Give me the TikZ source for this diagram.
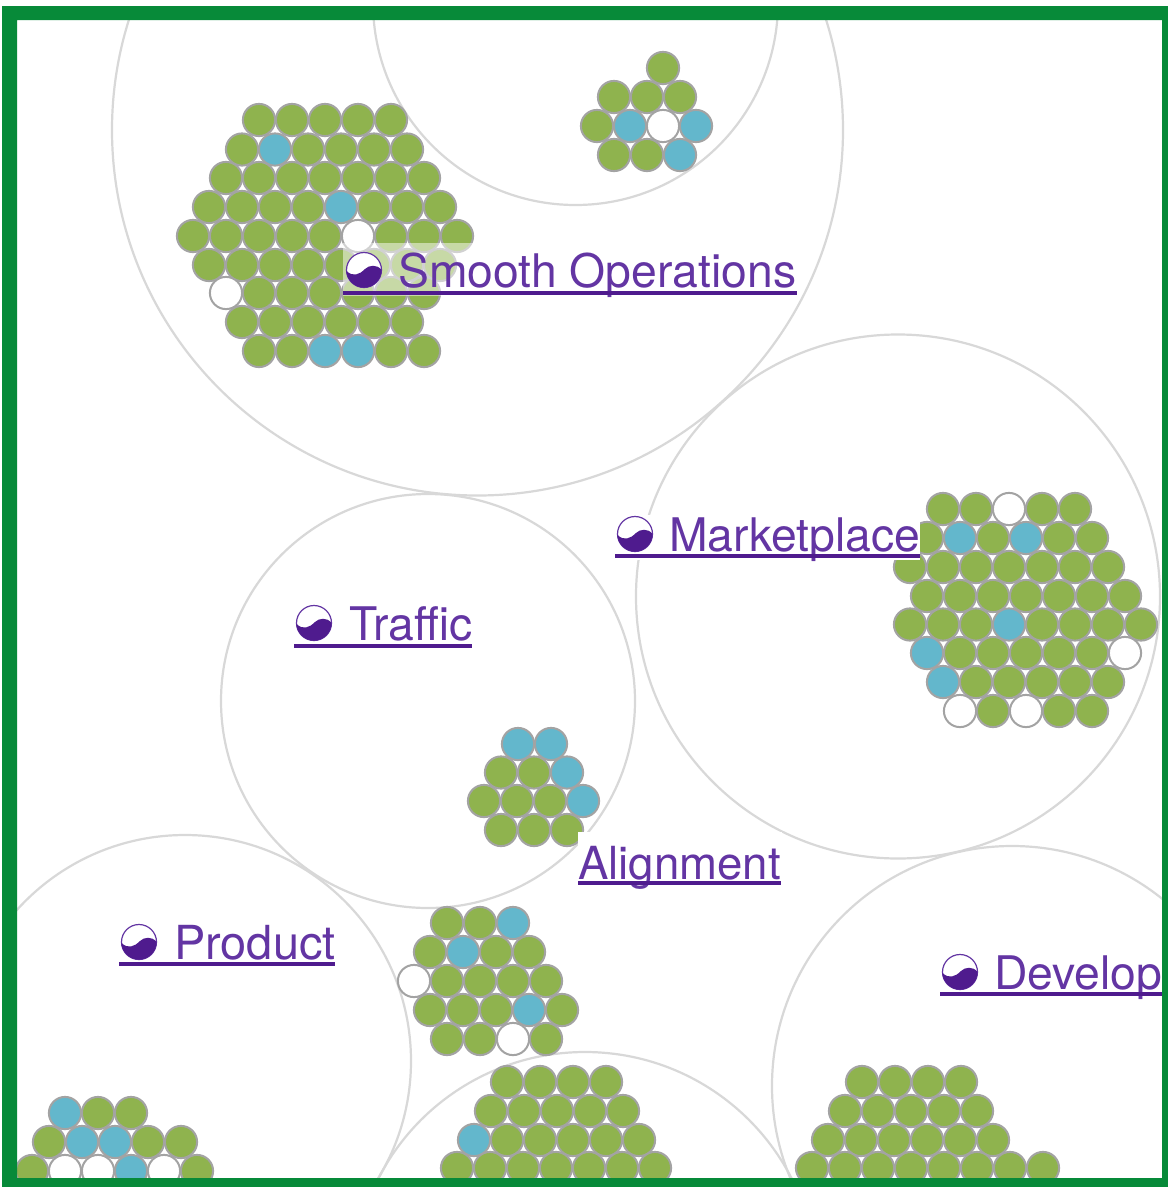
\documentclass[tikz,border=0pt]{standalone}
\usepackage{fontspec}
\setmainfont{TeX Gyre Heros}
\definecolor{leaf}{HTML}{8FB34E}
\definecolor{sky}{HTML}{63B7CC}
\definecolor{rim}{HTML}{A3A3A3}
\definecolor{ring}{HTML}{D8D8D8}
\definecolor{frame}{HTML}{078A39}
\definecolor{ink}{HTML}{6335A3}
\definecolor{inkdark}{HTML}{4F1B8E}
\tikzset{
  ringline/.style={draw=ring,line width=2.2pt},
  dotg/.style={draw=rim,line width=2pt,fill=leaf},
  dotb/.style={draw=rim,line width=2pt,fill=sky},
  dotw/.style={draw=rim,line width=2pt,fill=white},
  linklabel/.style={anchor=base west,inner sep=0pt,text=ink,font=\fontsize{46.3}{50}\selectfont},
  underrule/.style={draw=inkdark,line width=3.4pt},
}
\newcommand{\dotrow}[3]{%
  \foreach \c [count=\i from 0] in {#3}{\path[dot\c] ({#1+33*\i},#2) circle (16.1);}}
\newcommand{\linkicon}[2]{%
  \begin{scope}[shift={(#1,#2)}]
    \draw[ink,line width=1.2pt,fill=white] (0,0) circle (17.5);
    \fill[inkdark] (-17.5,1) .. controls (-11,7) and (-5,5) .. (1,-1) .. controls (5,-5) and (13,-6) .. (17.5,0)
      arc[start angle=0,end angle=177,radius=17.6] -- cycle;
  \end{scope}}
\begin{document}
\begin{tikzpicture}[x=1pt,y=-1pt]
\useasboundingbox (0,0) rectangle (1168,1187);
\fill[white] (0,0) rectangle (1168,1187);
\begin{scope}
\clip (17,20) rectangle (1162,1178);
\draw[ringline] (477.5,130) circle (365.5);
\draw[ringline] (575.5,2.5) circle (202.5);
\draw[ringline] (898,596.5) circle (262);
\draw[ringline] (428,701) circle (207);
\draw[ringline] (185,1061) circle (226);
\draw[ringline] (1012,1086) circle (240);
\draw[ringline] (585,1284) circle (232);
% Smooth Operations
\dotrow{259}{120}{g,g,g,g,g}
\dotrow{242}{149.5}{g,b,g,g,g,g}
\dotrow{226}{178}{g,g,g,g,g,g,g}
\dotrow{209}{207}{g,g,g,g,b,g,g,g}
\dotrow{193}{236}{g,g,g,g,g,w,g,g,g}
\dotrow{209}{265}{g,g,g,g,g,g,g,g}
\dotrow{226}{293}{w,g,g,g,g,g,g}
\dotrow{242}{322}{g,g,g,g,g,g}
\dotrow{259}{351}{g,g,b,b,g,g}
% top cluster
\dotrow{663}{68}{g}
\dotrow{614}{97}{g,g,g}
\dotrow{597}{126}{g,b,w,b}
\dotrow{614}{155}{g,g,b}
% Marketplace
\dotrow{943}{509}{g,g,w,g,g}
\dotrow{927}{538}{g,b,g,b,g,g}
\dotrow{910}{567}{g,g,g,g,g,g,g}
\dotrow{927}{596}{g,g,g,g,g,g,g}
\dotrow{910}{624.5}{g,g,g,b,g,g,g,g}
\dotrow{927}{653}{b,g,g,g,g,g,w}
\dotrow{943}{682}{b,g,g,g,g,g}
\dotrow{960}{711}{w,g,w,g,g}
% Traffic
\dotrow{518}{744}{b,b}
\dotrow{501}{772.5}{g,g,b}
\dotrow{484}{801}{g,g,g,b}
\dotrow{501}{830}{g,g,g}
% middle
\dotrow{447}{923}{g,g,b}
\dotrow{430}{952}{g,b,g,g}
\dotrow{414}{981}{w,g,g,g,g}
\dotrow{430}{1010}{g,g,g,b,g}
\dotrow{447}{1039}{g,g,w,g}
% Product
\dotrow{65}{1113}{b,g,g}
\dotrow{49}{1142}{g,b,b,g,g}
\dotrow{32}{1171}{g,w,w,b,w,g}
% bottom middle
\dotrow{507}{1082}{g,g,g,g}
\dotrow{491}{1111}{g,g,g,g,g}
\dotrow{474}{1140}{b,g,g,g,g,g}
\dotrow{457}{1168}{g,g,g,g,g,g,g}
% bottom right
\dotrow{862}{1082}{g,g,g,g}
\dotrow{845}{1111}{g,g,g,g,g}
\dotrow{828}{1140}{g,g,g,g,g,g}
\dotrow{812}{1168}{g,g,g,g,g,g,g,g}
\end{scope}
% label backings
\fill[white,opacity=.5] (343,243) rectangle (797,296);
\fill[white] (615,515) rectangle (920,560);
\fill[white] (578,832) rectangle (782,885);
% labels
\node[linklabel] (smooth) at (398,287.5) {Smooth Operations};
\node[linklabel] (market) at (669,551) {Marketplace};
\node[linklabel] (traffic) at (349,640) {Traffic};
\node[linklabel,font=\fontsize{45.6}{50}\selectfont] (align) at (578,879) {Alignment};
\node[linklabel,font=\fontsize{46.9}{50}\selectfont] (product) at (174,959) {Product};
\node[linklabel] (develop) at (994,989) {Develop};
\linkicon{364}{270}
\linkicon{635}{534}
\linkicon{314}{623}
\linkicon{139}{942}
\linkicon{960}{972}
\draw[underrule] (343,293) -- (797,293);
\draw[underrule] (615,556) -- (920,556);
\draw[underrule] (294,646) -- (472,646);
\draw[underrule] (578,883) -- (781,883);
\draw[underrule] (119,964) -- (335,964);
\draw[underrule] (940,994) -- (1162,994);
% frame
\fill[frame,even odd rule] (2,6) rectangle (1168,1187) (17,20) rectangle (1162,1178);
\end{tikzpicture}
\end{document}
